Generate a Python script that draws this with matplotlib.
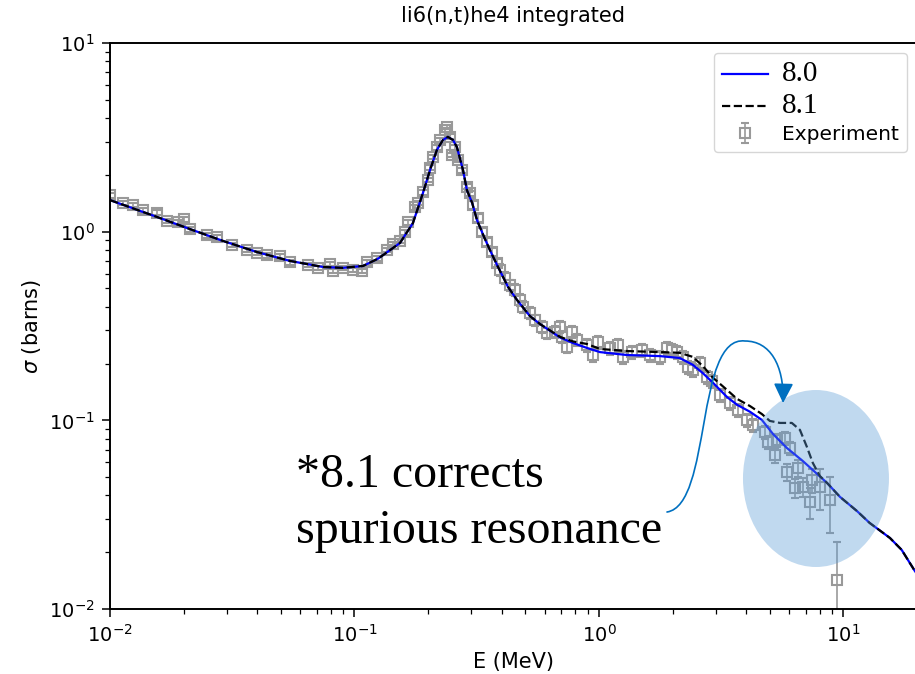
import numpy as np
import matplotlib
matplotlib.use('Agg')
import matplotlib.pyplot as plt
from matplotlib.patches import Ellipse, FancyArrowPatch
from matplotlib.path import Path

# ----------------------------------------------------------------
# Li-6(n,t)He-4 cross section: evaluations vs. measurements
# energies in MeV, cross sections in barns
# ----------------------------------------------------------------
e_80 = [0.0100, 0.01556, 0.0212, 0.0290, 0.0399, 0.0544, 0.0743, 0.0897,
        0.1084, 0.125, 0.1535, 0.1734, 0.1905, 0.2037, 0.2173, 0.2300,
        0.2410, 0.2530, 0.2624, 0.278, 0.2884, 0.303, 0.317, 0.339,
        0.358, 0.383, 0.425, 0.462, 0.522, 0.574, 0.693, 0.783,
        0.893, 1.01, 1.30, 1.78, 2.14, 2.42, 2.66, 2.93,
        3.34, 3.67, 4.15, 4.64, 5.15, 5.87, 6.82, 8.57,
        9.68, 11.35, 12.8, 15.5, 17.3, 19.6, 21.0]
xs_80 = [1.47, 1.197, 1.033, 0.893, 0.780, 0.700, 0.650, 0.643,
         0.658, 0.72, 0.871, 1.11, 1.60, 2.12, 2.71, 3.06,
         3.18, 3.06, 2.81, 2.12, 1.66, 1.42, 1.153, 0.937,
         0.800, 0.666, 0.509, 0.435, 0.357, 0.324, 0.275, 0.257,
         0.242, 0.230, 0.222, 0.219, 0.214, 0.197, 0.178, 0.158,
         0.133, 0.121, 0.111, 0.1005, 0.0847, 0.0714, 0.0609, 0.0466,
         0.0393, 0.0331, 0.0286, 0.0238, 0.0206, 0.0159, 0.0140]

e_81 = [0.0100, 0.01556, 0.0212, 0.0290, 0.0399, 0.0544, 0.0743, 0.0897,
        0.1084, 0.125, 0.1535, 0.1734, 0.1905, 0.2037, 0.2173, 0.2300,
        0.2410, 0.2530, 0.2624, 0.278, 0.2884, 0.303, 0.317, 0.339,
        0.358, 0.383, 0.425, 0.462, 0.522, 0.574, 0.693, 0.783,
        0.893, 1.01, 1.30, 1.78, 2.14, 2.42, 2.66, 2.93,
        3.34, 3.67, 4.15, 4.64, 5.00, 5.50, 6.15, 6.64,
        7.09, 7.50, 8.01, 8.57, 9.68, 11.35, 12.8, 15.5,
        17.3, 19.6, 21.0]
xs_81 = [1.47, 1.197, 1.033, 0.893, 0.780, 0.700, 0.650, 0.643,
         0.658, 0.72, 0.871, 1.11, 1.60, 2.12, 2.71, 3.06,
         3.18, 3.06, 2.81, 2.12, 1.66, 1.42, 1.153, 0.937,
         0.800, 0.666, 0.509, 0.435, 0.357, 0.324, 0.277, 0.262,
         0.254, 0.239, 0.233, 0.230, 0.228, 0.217, 0.194, 0.168,
         0.145, 0.130, 0.119, 0.108, 0.0993, 0.0969, 0.0969, 0.0890,
         0.0723, 0.0594, 0.0507, 0.0466, 0.0393, 0.0331, 0.0286, 0.0238,
         0.0206, 0.0159, 0.0140]

e_exp = [0.0100, 0.0113, 0.0124, 0.01365, 0.01556, 0.0171, 0.0190, 0.0201,
         0.0212, 0.0249, 0.0274, 0.0316, 0.0363, 0.0399, 0.0438, 0.0495,
         0.0544, 0.0646, 0.0710, 0.0794, 0.0817, 0.0897, 0.0986, 0.1074,
         0.1125, 0.1236, 0.1358, 0.1436, 0.1535, 0.161, 0.1656, 0.1766,
         0.182, 0.1905, 0.200, 0.2037, 0.2094, 0.2173, 0.224, 0.2344,
         0.2388, 0.246, 0.2506, 0.2576, 0.265, 0.2754, 0.2884, 0.2965,
         0.3055, 0.320, 0.332, 0.348, 0.365, 0.383, 0.3936, 0.413,
         0.4325, 0.453, 0.475, 0.489, 0.522, 0.547, 0.585, 0.612,
         0.661, 0.693, 0.706, 0.740, 0.776, 0.813, 0.893, 0.944,
         0.991, 1.109, 1.196, 1.253, 1.365, 1.50, 1.618, 1.778,
         1.897, 1.99, 2.084, 2.208, 2.312, 2.42, 2.59, 2.77,
         2.90, 3.13, 3.43, 3.71, 4.03, 4.27, 4.77, 4.91,
         5.25, 5.35, 5.77, 5.87, 6.04, 6.34, 6.52, 6.82,
         7.43, 7.30, 8.02, 8.81, 9.40]
xs_exp = [1.56, 1.42, 1.385, 1.30, 1.26, 1.14, 1.125, 1.167,
          1.03, 0.960, 0.937, 0.850, 0.800, 0.771, 0.752, 0.743,
          0.690, 0.666, 0.642, 0.674, 0.619, 0.642, 0.627, 0.619,
          0.690, 0.725, 0.800, 0.861, 0.893, 0.996, 1.125, 1.35,
          1.42, 1.62, 1.88, 2.18, 2.49, 2.81, 3.06, 3.46,
          3.59, 3.18, 2.55, 2.81, 2.40, 2.12, 1.73, 1.60,
          1.385, 1.18, 0.996, 0.881, 0.780, 0.682, 0.627, 0.568,
          0.521, 0.491, 0.435, 0.399, 0.371, 0.340, 0.313, 0.290,
          0.294, 0.313, 0.277, 0.245, 0.294, 0.267, 0.251, 0.222,
          0.260, 0.242, 0.251, 0.217, 0.230, 0.236, 0.222, 0.217,
          0.242, 0.236, 0.230, 0.217, 0.192, 0.185, 0.201, 0.170,
          0.162, 0.136, 0.1236, 0.1135, 0.1005, 0.0944, 0.0867, 0.0768,
          0.0655, 0.0787, 0.0806, 0.0532, 0.0714, 0.0438, 0.0559, 0.0444,
          0.0483, 0.0369, 0.0444, 0.0378, 0.01426]
# relative uncertainty of each measured point, percent
err_pct = [3, 3, 3, 3, 3, 3, 3, 3, 3, 3, 3, 3, 3, 3, 3, 3,
           3, 3, 3, 3, 3, 3, 3, 3, 3, 3, 3, 3, 3, 3, 3, 3,
           3, 3, 3, 3, 3, 3, 3, 3, 3, 3, 3, 3, 3, 3, 3, 3,
           5, 5, 5, 5, 5, 5, 7, 7, 7, 7, 7, 7, 7, 7, 7, 7,
           7, 7, 7, 7, 7, 7, 8, 8, 8, 8, 8, 8, 8, 8, 8, 8,
           8, 8, 8, 8, 8, 8, 8, 8, 8, 8, 8, 8, 8, 8, 8, 8,
           9, 8, 8, 10, 8, 12, 10, 12, 15, 19, 25, 33, 59]

EXP_GRAY = '0.6'
NOTE_BLUE = '#0070c0'

fig = plt.figure(figsize=(9.15, 6.74), dpi=100)
ax = fig.add_axes([0.1202, 0.0964, 0.882, 0.8398])

xs_exp_arr = np.array(xs_exp)
yerr = xs_exp_arr * np.array(err_pct) / 100.0
exp = ax.errorbar(e_exp, xs_exp_arr, yerr=yerr, fmt='s', mfc='none',
                  mec=EXP_GRAY, mew=1.5, ms=7, ecolor=EXP_GRAY,
                  elinewidth=1.2, capsize=3, capthick=1.2,
                  label='Experiment', zorder=1)
l80, = ax.plot(e_80, xs_80, color='blue', lw=1.6, label='8.0', zorder=2)
l81, = ax.plot(e_81, xs_81, 'k--', lw=1.6, label='8.1', zorder=3)

ax.set_xscale('log')
ax.set_yscale('log')
ax.set_xlim(0.01, 20)
ax.set_ylim(0.01, 10)

ax.set_title('li6(n,t)he4 integrated', fontsize=15, pad=15)
ax.set_xlabel('E (MeV)', fontsize=15)
ax.set_ylabel(r'$\sigma$ (barns)', fontsize=15)

ax.tick_params(which='major', length=6, width=1.1, labelsize=14, pad=5)
ax.tick_params(which='minor', length=3.5, width=0.9)
for sp in ax.spines.values():
    sp.set_linewidth(1.4)

leg = ax.legend(handles=[l80, l81, exp], loc='upper right', fontsize=14.5,
                handlelength=2.3, handletextpad=0.7, labelspacing=0.3)
for t in leg.get_texts()[:2]:
    t.set_fontfamily(['Liberation Serif'])
    t.set_fontsize(21)

# highlight of the 5-9 MeV region
ax.add_patch(Ellipse((0.8748, 0.2306), 0.1809, 0.3127, transform=ax.transAxes,
                     facecolor='#5b9bd5', edgecolor='none', alpha=0.38,
                     zorder=4))

# curved pointer from the note to the highlighted region
verts = [(0.6902, 0.1714), (0.7460, 0.1837), (0.7249, 0.4841), (0.7869, 0.4735),
         (0.8178, 0.4735), (0.8352, 0.4311), (0.8340, 0.3640)]
codes = [Path.MOVETO] + [Path.CURVE4] * 6
ax.add_artist(FancyArrowPatch(path=Path(verts, codes), transform=ax.transAxes,
                              arrowstyle='-|>,head_length=1.0,head_width=0.5',
                              mutation_scale=12, color=NOTE_BLUE, lw=1.2,
                              zorder=6))

note_kw = dict(transform=ax.transAxes, family=['Liberation Serif'],
               fontsize=34.5, ha='left', va='baseline', zorder=6)
ax.text(0.2305, 0.2155, '*8.1 corrects', **note_kw)
ax.text(0.2305, 0.1166, 'spurious resonance', **note_kw)

fig.savefig('out.png', dpi=100)
